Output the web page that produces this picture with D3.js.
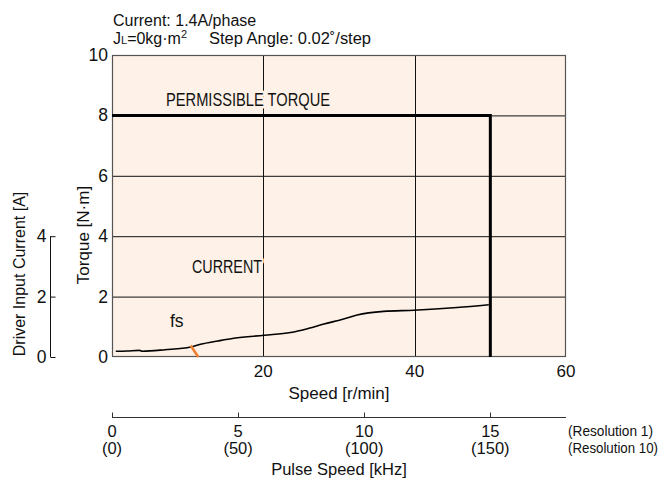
<!DOCTYPE html>
<html>
<head>
<meta charset="utf-8">
<script src="https://cdn.jsdelivr.net/npm/d3@7"></script>
<style>
  html, body { margin: 0; padding: 0; background: #fff; }
  svg text { font-family: "Liberation Sans", Arial, sans-serif; fill: #111; }
</style>
</head>
<body>
<div id="chart"></div>
<script>
// ---- data ----
const speedTicks = [20, 40, 60];
const torqueTicks = [0, 2, 4, 6, 8, 10];
const currentTicks = [0, 2, 4];
const pulseTicks = [0, 5, 10, 15];
const pulseRes10 = ["(0)", "(50)", "(100)", "(150)"];

// permissible torque outline [speed r/min, torque N·m]
const permissible = [[0, 8], [50, 8], [50, 0]];
// driver input current [speed r/min, current A]
const currentSpeed = [0.5, 2, 3.6, 4.0, 7, 10.4, 11.7, 14, 16.1, 20.1, 23.6, 26, 28, 30.5, 32.4, 35.9, 39.9, 45.6, 49.8];
const currentAmps  = [0.19, 0.20, 0.22, 0.19, 0.24, 0.33, 0.42, 0.53, 0.62, 0.72, 0.81, 0.95, 1.09, 1.25, 1.39, 1.51, 1.55, 1.64, 1.73];
// fs marker (orange)
const fsMark = [[10.4, 0.38], [11.4, 0]];

// ---- layout ----
const W = 664, H = 481;
const plot = { left: 112, right: 566, top: 55, bottom: 357 };
const BG = "#fef1e7";

const svg = d3.select("#chart").append("svg").attr("width", W).attr("height", H);

const x = d3.scaleLinear().domain([0, 60]).range([plot.left, plot.right]);
const y = d3.scaleLinear().domain([0, 10]).range([plot.bottom, plot.top]);
const yCur = d3.scaleLinear().domain([0, 4]).range([y(0), y(4)]);
const xPulse = d3.scaleLinear().domain([0, 18]).range([plot.left, plot.right]);

// text helper: optional squeeze to a width (the original uses a condensed face)
function txt(str, tx, ty, size, opts = {}) {
  const t = svg.append("text").attr("x", tx).attr("y", ty)
    .attr("font-size", size).attr("text-anchor", opts.anchor || "start").text(str);
  if (opts.width) t.attr("textLength", opts.width).attr("lengthAdjust", "spacingAndGlyphs");
  if (opts.rotate) t.attr("transform", `rotate(-90,${tx},${ty})`);
  if (opts.halo) t.attr("stroke", BG).attr("stroke-width", 5).attr("paint-order", "stroke").attr("stroke-linejoin", "round");
  return t;
}

// plot background
svg.append("rect")
  .attr("x", plot.left).attr("y", plot.top)
  .attr("width", plot.right - plot.left).attr("height", plot.bottom - plot.top)
  .attr("fill", BG);

// grid
svg.append("g").selectAll("line").data([2, 4, 6, 8]).join("line")
  .attr("x1", plot.left).attr("x2", plot.right)
  .attr("y1", d => y(d) + 0.5).attr("y2", d => y(d) + 0.5)
  .attr("stroke", "#111").attr("stroke-width", 1);
svg.append("g").selectAll("line").data([20, 40]).join("line")
  .attr("x1", d => Math.round(x(d)) + 0.5).attr("x2", d => Math.round(x(d)) + 0.5)
  .attr("y1", plot.top).attr("y2", plot.bottom)
  .attr("stroke", "#111").attr("stroke-width", 1);

// in-plot labels (knock-out halo over the grid)
txt("PERMISSIBLE TORQUE", 166, 106, 17.5, { width: 164, halo: true });
txt("CURRENT", 192, 273, 17.5, { width: 70, halo: true });
txt("fs", 170, 327, 17.5, { halo: true });

// border
svg.append("rect")
  .attr("x", plot.left + 0.5).attr("y", plot.top + 0.5)
  .attr("width", plot.right - plot.left - 1).attr("height", plot.bottom - plot.top - 1)
  .attr("fill", "none").attr("stroke", "#555").attr("stroke-width", 1.2);

// permissible torque
svg.append("path")
  .datum(permissible)
  .attr("d", d3.line().x(d => x(d[0])).y(d => y(d[1])))
  .attr("fill", "none").attr("stroke", "#000").attr("stroke-width", 3);

// current curve
const curPts = currentSpeed.map((s, i) => [s, currentAmps[i]]);
svg.append("path")
  .datum(curPts)
  .attr("d", d3.line().x(d => x(d[0])).y(d => yCur(d[1])).curve(d3.curveMonotoneX))
  .attr("fill", "none").attr("stroke", "#000").attr("stroke-width", 1.6);

// fs mark
svg.append("path")
  .datum(fsMark)
  .attr("d", d3.line().x(d => x(d[0])).y(d => y(d[1])))
  .attr("fill", "none").attr("stroke", "#ef7f2c").attr("stroke-width", 2.5);

// torque axis labels
svg.append("g").selectAll("text").data(torqueTicks).join("text")
  .attr("x", plot.left - 4).attr("y", d => y(d) + 6)
  .attr("text-anchor", "end").attr("font-size", 17.5)
  .text(d => d);
txt("Torque [N·m]", 89, 235, 17, { anchor: "middle", rotate: true });

// speed axis labels
svg.append("g").selectAll("text").data(speedTicks).join("text")
  .attr("x", d => x(d)).attr("y", 377)
  .attr("text-anchor", "middle").attr("font-size", 17)
  .text(d => d);
txt("Speed [r/min]", 339, 399, 17, { anchor: "middle" });

// driver input current axis
const curAxis = svg.append("g").attr("transform", "translate(50.5,0)");
curAxis.append("line")
  .attr("x1", 0).attr("x2", 0).attr("y1", yCur(4)).attr("y2", yCur(0))
  .attr("stroke", "#111");
curAxis.selectAll("line.tk").data(currentTicks).join("line").attr("class", "tk")
  .attr("x1", 0).attr("x2", 5).attr("y1", d => yCur(d) + 0.5).attr("y2", d => yCur(d) + 0.5)
  .attr("stroke", "#111");
curAxis.selectAll("text").data(currentTicks).join("text")
  .attr("x", -4).attr("y", d => yCur(d) + 6)
  .attr("text-anchor", "end").attr("font-size", 17.5)
  .text(d => d);
txt("Driver Input Current [A]", 25, 274, 16, { anchor: "middle", rotate: true });

// pulse speed axis
const pAxis = svg.append("g").attr("transform", "translate(0,417.5)");
pAxis.append("line")
  .attr("x1", xPulse(0)).attr("x2", xPulse(18))
  .attr("stroke", "#333");
pAxis.selectAll("line.tk").data(pulseTicks).join("line").attr("class", "tk")
  .attr("x1", d => Math.round(xPulse(d)) + 0.5).attr("x2", d => Math.round(xPulse(d)) + 0.5)
  .attr("y1", 0).attr("y2", -5)
  .attr("stroke", "#333");
svg.append("g").selectAll("text").data(pulseTicks).join("text")
  .attr("x", d => xPulse(d)).attr("y", 437)
  .attr("text-anchor", "middle").attr("font-size", 16.5)
  .text(d => d);
svg.append("g").selectAll("text").data(pulseRes10).join("text")
  .attr("x", (d, i) => xPulse(pulseTicks[i])).attr("y", 454)
  .attr("text-anchor", "middle").attr("font-size", 16.5)
  .text(d => d);
txt("Pulse Speed [kHz]", 339, 475, 16.5, { anchor: "middle" });
txt("(Resolution 1)", 568, 436, 15.5, { width: 85 });
txt("(Resolution 10)", 568, 453, 15.5, { width: 90 });

// header
txt("Current: 1.4A/phase", 113, 26, 16);
const h2 = svg.append("text").attr("x", 113).attr("y", 44).attr("font-size", 16);
h2.append("tspan").text("J");
h2.append("tspan").attr("font-size", 11).text("L");
h2.append("tspan").text("=0kg·m");
h2.append("tspan").attr("font-size", 11).attr("dy", -6).text("2");
txt("Step Angle: 0.02˚/step", 209, 44, 16, { width: 162 });
</script>
</body>
</html>
